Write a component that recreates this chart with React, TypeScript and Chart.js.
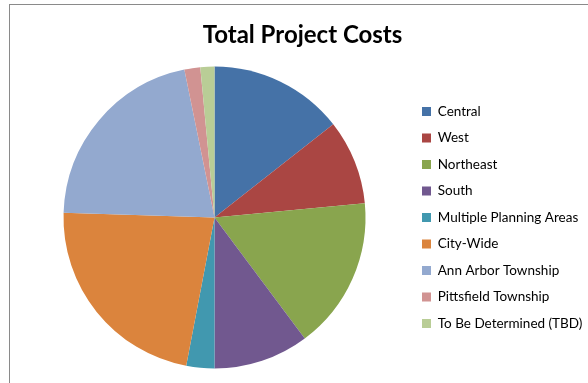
import React, { useEffect, useRef } from "react";
import { Chart, registerables } from "chart.js";

Chart.register(...registerables);

const categories = [
  "Central",
  "West",
  "Northeast",
  "South",
  "Multiple Planning Areas",
  "City-Wide",
  "Ann Arbor Township",
  "Pittsfield Township",
  "To Be Determined (TBD)",
];
const costShare = [14.4, 9.1, 16.3, 10.2, 3.0, 22.5, 21.3, 1.7, 1.5];
const sliceColors = [
  "#4572A7",
  "#AA4643",
  "#89A54E",
  "#71588F",
  "#4198AF",
  "#DB843D",
  "#93A9CF",
  "#D19392",
  "#B9CD96",
];
const chartTitle = "Total Project Costs";

export default function App() {
  const ref = useRef<HTMLCanvasElement | null>(null);
  useEffect(() => {
    if (!ref.current) return;
    const chart = new Chart(ref.current, {
      type: "pie",
      data: {
        labels: categories,
        datasets: [
          {
            data: costShare,
            backgroundColor: sliceColors,
            borderWidth: 0,
          },
        ],
      },
      options: {
        animation: false,
        responsive: false,
        maintainAspectRatio: false,
        layout: { padding: { left: 20, right: 3, top: 0, bottom: 14.5 } },
        plugins: {
          tooltip: { enabled: false },
          title: {
            display: true,
            text: chartTitle,
            color: "#000",
            font: { family: "Lato", size: 24, weight: "bold" },
            padding: { top: 21, bottom: 16.7 },
          },
          legend: {
            display: true,
            position: "right",
            align: "center",
            fullSize: false,
            maxWidth: 176,
            labels: {
              boxWidth: 9,
              boxHeight: 9,
              padding: 13,
              color: "#000",
              font: { family: "Lato", size: 13.5 },
            },
          },
        },
      },
    });
    return () => chart.destroy();
  }, []);
  return (
    <div style={{ position: "absolute", left: 0, top: 0, width: 588, height: 383, background: "#fff", overflow: "hidden" }}>
      <div
        style={{
          position: "absolute",
          left: 9,
          top: 4,
          width: 700,
          height: 500,
          border: "1.5px solid #8a8a8a",
        }}
      />
      <canvas ref={ref} width={588} height={383} style={{ position: "absolute", left: 0, top: 0 }} />
    </div>
  );
}
